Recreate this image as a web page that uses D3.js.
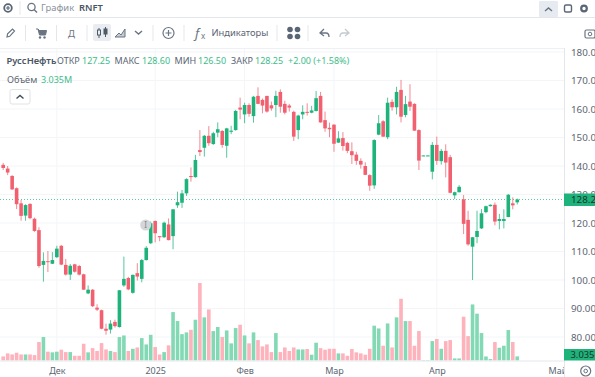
<!DOCTYPE html>
<html>
<head>
<meta charset="utf-8">
<script src="https://cdn.jsdelivr.net/npm/d3@7"></script>
<style>
html,body{margin:0;padding:0;background:#fff;overflow:hidden}
svg{display:block}
text{font-family:"Noto Sans",sans-serif}
</style>
</head>
<body>
<svg id="chart" width="595" height="377"></svg>
<script>
// свечи по дням
var opens=[140.4,139.1,136.5,132.2,126.9,122.6,126.7,121.5,117.5,105.3,106.6,105.7,108.0,112.0,105.3,101.9,105.5,104.9,102.0,95.3,96.6,90.3,89.4,82.9,82.6,85.3,83.5,98.1,100.7,95.5,102.4,100.4,107.0,112.9,120.7,115.4,115.0,119.5,115.4,126.2,127.1,130.4,136.5,136.1,145.6,146.4,150.6,147.7,151.7,152.3,147.1,152.0,152.6,160.5,158.1,161.4,157.5,164.6,163.2,164.6,161.3,161.4,166.0,161.8,161.2,159.0,152.6,158.1,159.0,158.7,159.3,164.6,156.1,153.4,154.5,148.2,149.8,148.1,145.2,144.0,141.8,140.0,136.8,133.2,151.0,155.7,150.1,162.5,160.6,166.7,157.9,162.6,161.8,152.6,143.5,143.5,138.0,147.4,141.7,145.3,143.1,129.7,130.8,128.3,121.1,111.7,115.1,118.1,123.8,125.9,126.4,120.7,120.7,122.1,126.9,127.25]
var closes=[139.3,137.7,131.8,126.6,122.5,126.3,121.7,117.2,104.9,106.7,106.3,107.0,111.0,105.4,101.9,105.0,102.9,101.9,96.6,96.6,90.8,89.6,82.9,82.2,84.7,83.8,96.4,100.4,96.7,101.8,101.2,107.0,111.3,119.9,116.4,115.0,120.1,114.0,124.8,127.3,130.4,135.4,136.1,142.1,144.9,150.6,148.0,151.5,152.9,147.4,153.2,152.4,159.3,159.8,161.4,158.3,164.3,161.8,161.2,159.1,160.2,164.6,160.8,158.7,160.5,150.3,157.7,159.0,158.7,159.5,163.8,155.3,153.2,152.9,147.8,149.7,147.0,145.3,143.8,141.8,140.5,136.9,133.1,149.1,155.0,150.3,162.2,160.6,166.0,157.3,161.7,160.8,152.4,141.9,143.7,143.7,147.4,141.8,145.3,141.2,130.6,130.8,132.7,119.7,112.5,115.0,117.2,123.4,125.9,126.4,120.5,121.4,121.4,129.9,126.2,128.25]
var highs=[141.1,140.0,136.8,132.5,128.1,126.6,126.9,121.9,118.5,109.7,110.2,109.8,112.0,112.3,107.4,105.6,105.7,105.3,102.2,98.1,96.8,91.5,89.6,84.7,85.9,86.1,96.5,108.2,101.1,101.9,105.9,107.4,111.9,120.5,120.9,115.4,120.5,121.6,124.9,131.0,131.6,135.7,139.5,143.9,152.6,150.9,154.0,152.0,155.3,152.6,153.4,154.1,159.7,164.0,162.2,162.0,164.6,167.6,163.7,164.6,162.6,166.4,166.9,162.9,161.8,159.4,158.0,161.3,162.0,161.1,166.3,166.0,159.1,155.2,154.7,152.2,151.9,148.5,148.3,145.0,142.7,141.3,137.1,149.4,157.9,156.1,164.0,163.4,167.8,170.2,164.6,168.7,162.0,152.9,143.7,143.7,148.4,150.3,146.0,147.6,143.9,131.0,133.3,129.8,124.3,115.1,124.3,124.9,126.1,126.5,127.2,123.2,124.8,130.2,129.0,128.60]
var lows=[138.6,136.8,131.6,124.9,120.8,120.8,121.3,116.9,104.3,99.4,102.8,105.6,107.7,105.2,101.6,100.0,102.6,101.6,96.5,95.0,90.5,89.1,82.7,80.8,81.2,83.3,83.3,97.6,96.4,95.2,99.8,99.2,106.8,112.6,113.2,113.6,114.7,113.9,110.8,125.3,125.3,129.5,134.5,135.9,143.5,143.3,147.1,147.4,150.1,146.4,142.9,151.2,152.4,156.4,155.0,157.3,155.2,161.7,158.5,158.7,159.4,157.1,158.7,158.1,159.1,148.8,149.4,156.4,157.7,158.5,159.1,155.2,152.0,150.1,145.0,148.1,145.4,144.5,140.7,140.4,139.1,136.8,131.3,132.0,150.8,150.2,149.4,159.4,158.1,155.3,157.1,159.3,152.3,138.6,143.5,143.5,135.3,140.4,140.5,136.0,130.4,128.4,130.7,116.1,112.0,100.0,112.9,117.9,123.4,125.8,119.2,117.8,118.1,122.0,124.8,126.50]
var volume=[3.0,5.3,4.5,5.8,4.5,4.5,4.5,4.0,13.9,17.7,6.6,6.1,6.6,8.1,6.3,6.3,3.5,3.5,12.6,6.1,9.3,7.1,13.1,8.3,7.1,6.3,17.7,18.9,7.1,8.8,9.8,16.9,12.1,19.4,10.1,4.5,6.3,11.4,36.6,29.8,19.9,21.2,23.2,30.8,58.6,32.6,38.6,22.2,25.3,17.7,22.7,12.9,24.5,27.0,18.9,12.9,21.2,15.4,10.6,12.1,6.3,20.7,6.3,9.8,7.1,9.8,8.3,8.3,8.6,4.3,13.4,9.3,8.1,8.8,8.8,5.3,5.3,3.5,8.6,6.1,5.3,4.3,8.8,26.3,24.2,11.1,28.0,9.8,32.6,46.7,29.8,29.8,11.1,22.2,0.3,0.3,14.6,16.2,8.8,14.6,15.4,1.5,1.5,33.1,18.4,42.4,35.4,20.7,3.0,1.0,13.9,9.6,11.1,23.0,13.9,3.035]
var priceTicks=[80,90,100,110,120,130,140,150,160,170,180]
var monthIdx=[12,34,54,74,97,124]
var monthLabels=['Дек','2025','Фев','Мар','Апр','Май']
var lastClose=128.25,lastVolume='3.035M'

var GREEN='#1fb37c',RED='#f2606f',VGREEN='#82d9b4',VRED='#fdb2bc'
var TXT='#5b6573',GRID='#f3f5f7',LINE='#e3e7ec'
var svg=d3.select('#chart')

var x=d3.scaleLinear().domain([0,115]).range([3.2,517.25])
var y=d3.scaleLinear().domain([100,180]).range([280,52])
var v=d3.scaleLinear().domain([0,60]).range([360.4,281.2])

var days=d3.range(opens.length)
var bodyW=3.6

svg.append('clipPath').attr('id','plot').append('rect')
    .attr('x',0).attr('y',48).attr('width',564).attr('height',329)

// сетка
var grid=svg.append('g')
grid.selectAll('line.h').data(priceTicks).join('line').attr('class','h')
    .attr('x1',0).attr('x2',564).attr('y1',d=>y(d)).attr('y2',d=>y(d))
    .attr('stroke',GRID)
grid.selectAll('line.v').data(monthIdx.slice(0,5)).join('line').attr('class','v')
    .attr('x1',d=>x(d)).attr('x2',d=>x(d)).attr('y1',48).attr('y2',361)
    .attr('stroke',GRID)

// объём
svg.append('g').selectAll('rect').data(days).join('rect')
    .attr('x',i=>x(i)-bodyW/2)
    .attr('width',bodyW)
    .attr('y',i=>v(volume[i]))
    .attr('height',i=>v(0)-v(volume[i]))
    .attr('fill',i=>closes[i]>=opens[i]?VGREEN:VRED)

// линия последней цены
svg.append('line')
    .attr('x1',0).attr('x2',564).attr('y1',y(lastClose)).attr('y2',y(lastClose))
    .attr('stroke','#5cc9a0').attr('stroke-dasharray','1 2')

// свечи
var candles=svg.append('g').selectAll('g').data(days).join('g')
candles.append('line')
    .attr('x1',i=>x(i)).attr('x2',i=>x(i))
    .attr('y1',i=>y(highs[i])).attr('y2',i=>y(lows[i]))
    .attr('stroke',i=>closes[i]>=opens[i]?GREEN:RED)
    .attr('stroke-opacity',.75)
candles.append('rect')
    .attr('x',i=>x(i)-bodyW/2)
    .attr('width',bodyW)
    .attr('y',i=>y(Math.max(opens[i],closes[i])))
    .attr('height',i=>Math.max(1,Math.abs(y(opens[i])-y(closes[i]))))
    .attr('fill',i=>closes[i]>=opens[i]?GREEN:RED)

// метка события
var mark=svg.append('g').attr('transform','translate(145.7,225)')
mark.append('circle').attr('r',5.5).attr('fill','#d4d6da')
mark.append('text').attr('text-anchor','middle').attr('y',3).attr('font-size',8).attr('fill','#808890').text('I')

// оси
var yAxis=d3.axisRight(y).tickValues(priceTicks).tickSize(0).tickPadding(0).tickFormat(d3.format('.2f'))
var yG=svg.append('g').attr('transform','translate(571,0)').call(yAxis)
yG.select('.domain').remove()
yG.selectAll('text').attr('font-size',9.8).attr('fill',TXT).style('font-family','"Noto Sans",sans-serif')

var xAxis=d3.axisBottom(x).tickValues(monthIdx).tickSize(0).tickPadding(0).tickFormat((d,i)=>monthLabels[i])
var xG=svg.append('g').attr('clip-path','url(#plot)').append('g').attr('transform','translate(0,367.5)').call(xAxis)
xG.select('.domain').remove()
xG.selectAll('text').attr('font-size',9).attr('fill',TXT).style('font-family','"Noto Sans",sans-serif')

svg.append('line').attr('x1',564.5).attr('x2',564.5).attr('y1',48).attr('y2',377).attr('stroke',LINE)
svg.append('line').attr('x1',0).attr('x2',564).attr('y1',361).attr('y2',361).attr('stroke',LINE)

// плашки последних значений
svg.append('rect').attr('x',564).attr('y',y(lastClose)-6).attr('width',31).attr('height',12.5).attr('fill',GREEN)
svg.append('text').attr('x',571).attr('y',y(lastClose)+3.6).attr('font-size',9.8).attr('fill','#17352b').text(d3.format('.2f')(lastClose))
svg.append('rect').attr('x',564).attr('y',349).attr('width',31).attr('height',11.5).attr('fill',GREEN)
svg.append('text').attr('x',570.5).attr('y',358.3).attr('font-size',9.4).attr('fill','#17352b').text(lastVolume)

// панель инструментов
function chevron(cx,cy,dir,color){
    svg.append('path').attr('d',`M${cx-3.5},${cy+dir*2}L${cx},${cy-dir*1}L${cx+3.5},${cy+dir*2}`)
        .attr('fill','none').attr('stroke',color).attr('stroke-width',1.4)
}
function sep(px,y1,y2){
    svg.append('line').attr('x1',px).attr('x2',px).attr('y1',y1).attr('y2',y2).attr('stroke',LINE)
}
function label(px,py,txt,color,size,weight){
    return svg.append('text').attr('x',px).attr('y',py).attr('font-size',size||9)
        .attr('fill',color).attr('font-weight',weight||400).text(txt)
}

// легенда
var VAL='#3dbd8a'
label(6.5,64.3,'РуссНефть','#4a5563',9.4,600)
label(57,64.3,'ОТКР',TXT)
label(82,64.3,'127.25',VAL)
label(114.5,64.3,'МАКС',TXT)
label(142,64.3,'128.60',VAL)
label(174.5,64.3,'МИН',TXT)
label(198,64.3,'126.50',VAL)
label(231,64.3,'ЗАКР',TXT)
label(255,64.3,'128.25',VAL)
label(288,64.3,'+2.00 (+1.58%)',VAL)
label(7,82.5,'Объём',TXT,9.2)
label(41,82.5,lastVolume,VAL)
svg.append('rect').attr('x',10).attr('y',89.5).attr('width',20).attr('height',14.5).attr('rx',2)
    .attr('fill','#fff').attr('stroke','#dfe2e6')
chevron(20,96.5,1,'#444d58')

var ICON='#6a7582'
svg.append('line').attr('x1',0).attr('x2',595).attr('y1',17.5).attr('y2',17.5).attr('stroke',LINE)
svg.append('line').attr('x1',0).attr('x2',564).attr('y1',48.5).attr('y2',48.5).attr('stroke','#eef0f3')

// верхний ряд
svg.append('circle').attr('cx',8).attr('cy',8).attr('r',3.8).attr('fill','none').attr('stroke','#5a6675').attr('stroke-width',1.8)
svg.append('path').attr('d','M6,8H10M8,6V10').attr('stroke','#5a6675').attr('stroke-width',1.2)
sep(20,1,15)
svg.append('circle').attr('cx',31.5).attr('cy',7).attr('r',3.6).attr('fill','none').attr('stroke',ICON).attr('stroke-width',1.3)
svg.append('path').attr('d','M34,9.5L37,12.5').attr('stroke',ICON).attr('stroke-width',1.4)
label(41,11.3,'График','#8a929d',9.4)
label(79,11.3,'RNFT','#4a5563',9.4,600)
svg.append('rect').attr('x',539).attr('y',1).attr('width',19).attr('height',16).attr('rx',1).attr('fill','#e6ebf2')
chevron(548.5,9,1,'#6a7582')
svg.append('rect').attr('x',564.5).attr('y',5).attr('width',7).attr('height',7).attr('rx',1.5).attr('fill','none').attr('stroke','#5a6675').attr('stroke-width',1.4)
svg.append('circle').attr('cx',584).attr('cy',8.5).attr('r',2.8).attr('fill','none').attr('stroke','#5a6675').attr('stroke-width',2.2)

// второй ряд
svg.append('path').attr('d','M7,37L7.6,33.8L12.5,29L14.5,31L9.7,36.3Z').attr('fill','none').attr('stroke',ICON).attr('stroke-width',1.2)
sep(25.5,25,41)
svg.append('path').attr('d','M36,29H38L39.5,35H45.5L46.5,30.5H38.5V29').attr('fill',ICON).attr('stroke',ICON)
svg.append('circle').attr('cx',40).attr('cy',37.5).attr('r',1.2).attr('fill',ICON)
svg.append('circle').attr('cx',44.5).attr('cy',37.5).attr('r',1.2).attr('fill',ICON)
sep(56.5,25,41)
label(68,36.5,'Д',ICON,9.5)
sep(87,25,41)
svg.append('rect').attr('x',93).attr('y',24).attr('width',18).attr('height',17).attr('rx',2).attr('fill','#e9edf2')
svg.append('path').attr('d','M99,28V38M105.5,27V37').attr('stroke','#4f5a67')
svg.append('rect').attr('x',97.5).attr('y',30).attr('width',3).attr('height',5).attr('fill','#e9edf2').attr('stroke','#4f5a67')
svg.append('rect').attr('x',104).attr('y',29).attr('width',3).attr('height',5).attr('fill','#4f5a67').attr('stroke','#4f5a67')
svg.append('path').attr('d','M115,37L119,33L121,35L125,29V37Z').attr('fill','#c6ccd4').attr('stroke',ICON)
chevron(138.5,33,-1,ICON)
sep(153,25,41)
svg.append('circle').attr('cx',168.5).attr('cy',33).attr('r',5.5).attr('fill','none').attr('stroke',ICON).attr('stroke-width',1.2)
svg.append('path').attr('d','M165.5,33H171.5M168.5,30V36').attr('stroke',ICON).attr('stroke-width',1.2)
sep(184,25,41)
label(195,37.5,'f',ICON,13).attr('font-style','italic')
label(201,39,'x',ICON,8)
label(211.5,36.4,'Индикаторы',TXT,9.4)
sep(277,25,41)
d3.cross([290,297.5],[29.5,36.5]).forEach(p=>{
    svg.append('circle').attr('cx',p[0]).attr('cy',p[1]).attr('r',2.8).attr('fill','#5a6675')
})
sep(308,25,41)
svg.append('path').attr('d','M324,29L320,33L324,36M320,33H326C328,33 329,35 329,37').attr('fill','none').attr('stroke',ICON).attr('stroke-width',1.3)
svg.append('path').attr('d','M345,29L349,33L345,36M349,33H343C341,33 340,35 340,37').attr('fill','none').attr('stroke','#c4cad1').attr('stroke-width',1.3)
svg.append('rect').attr('x',585).attr('y',30).attr('width',10).attr('height',8).attr('rx',1.5).attr('fill','none').attr('stroke',ICON).attr('stroke-width',1.2)
svg.append('circle').attr('cx',590).attr('cy',34).attr('r',1.8).attr('fill','none').attr('stroke',ICON)

// шестерёнка внизу
svg.append('circle').attr('cx',585.7).attr('cy',371).attr('r',5).attr('fill','none').attr('stroke',ICON).attr('stroke-width',1.2)
svg.append('circle').attr('cx',585.7).attr('cy',371).attr('r',1.8).attr('fill','none').attr('stroke',ICON)
</script>
</body>
</html>
